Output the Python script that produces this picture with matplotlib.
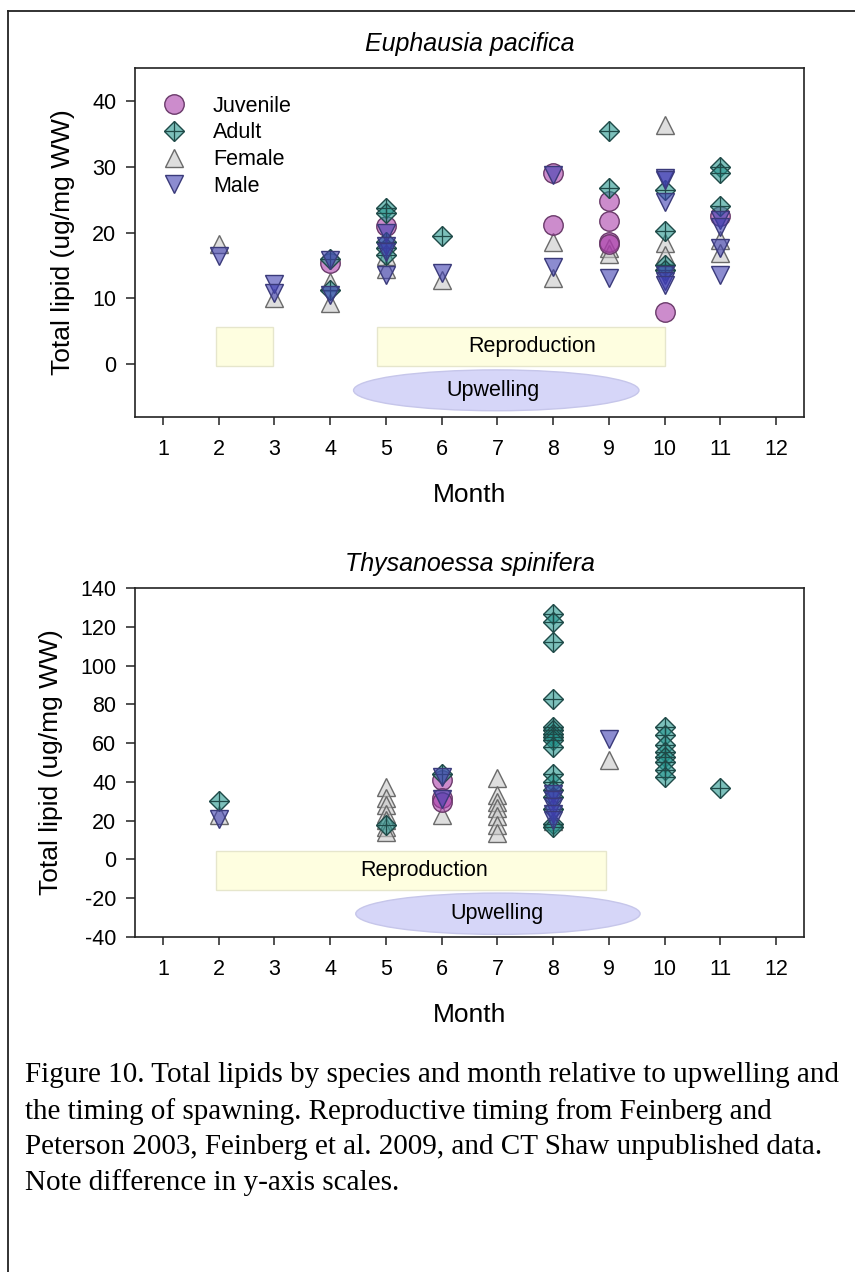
import matplotlib
matplotlib.use("Agg")
import matplotlib.pyplot as plt
from matplotlib.lines import Line2D
from matplotlib.patches import Rectangle, Ellipse

plt.rcParams['font.family'] = ['Liberation Sans', 'DejaVu Sans']

# ---------------- Data: Euphausia pacifica ----------------
ep_juv_month = [4, 5, 8, 8, 9, 9, 9, 9, 10, 11]
ep_juv_val = [15.4, 21.0, 29.0, 21.2, 24.8, 21.8, 18.6, 18.2, 8.0, 22.5]

ep_adult_month = [4, 4, 5, 5, 5, 5, 5, 6, 9, 9, 10, 10, 10, 10, 11, 11, 11]
ep_adult_val = [16.0, 11.3, 23.8, 23.0, 18.6, 17.6, 16.6, 19.5, 35.4, 26.8,
                26.4, 20.2, 15.1, 14.3, 30.0, 29.0, 24.0]

ep_female_month = [2, 3, 4, 4, 5, 5, 6, 8, 8, 9, 9, 10, 10, 10, 11, 11]
ep_female_val = [18.2, 10.1, 12.5, 9.3, 16.5, 14.5, 12.8, 18.6, 13.1, 17.6,
                 16.8, 36.4, 18.4, 16.6, 18.9, 16.9]

ep_male_month = [2, 3, 3, 4, 4, 5, 5, 5, 5, 6, 8, 8, 9, 10, 10, 10, 10, 10,
                 10, 11, 11, 11, 11]
ep_male_val = [16.5, 12.2, 10.9, 10.5, 15.8, 20.0, 18.0, 17.0, 13.6, 13.8,
               28.8, 14.8, 13.1, 28.3, 28.0, 24.7, 13.5, 12.6, 12.0, 21.9,
               20.9, 17.6, 13.6]

# ---------------- Data: Thysanoessa spinifera ----------------
ts_juv_month = [6, 6, 6]
ts_juv_val = [40.8, 31.5, 29.5]

ts_adult_month = [2, 5, 6, 8, 8, 8, 8, 8, 8, 8, 8, 8, 8, 8, 8, 8, 8, 8, 8,
                  8, 10, 10, 10, 10, 10, 10, 10, 10, 11]
ts_adult_val = [30.0, 17.6, 44.0, 126.8, 122.4, 112.1, 82.9, 68.3, 66.6,
                64.9, 63.0, 61.4, 58.0, 44.2, 39.9, 35.6, 32.2, 26.2, 18.5,
                16.7, 68.3, 64.0, 58.8, 55.4, 52.8, 50.2, 45.9, 42.5, 36.8]

ts_female_month = [2, 5, 5, 5, 5, 5, 5, 5, 6, 7, 7, 7, 7, 7, 7, 7, 8, 9]
ts_female_val = [22.7, 37.3, 31.5, 27.9, 23.6, 20.5, 16.7, 14.1, 22.7,
                 42.0, 33.0, 29.5, 26.5, 22.5, 18.0, 13.6, 20.0, 51.5]

ts_male_month = [2, 6, 6, 8, 8, 8, 8, 8, 9]
ts_male_val = [21.0, 42.5, 31.0, 33.9, 30.5, 27.0, 23.6, 20.2, 62.3]

months = list(range(1, 13))
category_labels = ['Juvenile', 'Adult', 'Female', 'Male']

# ---------------- Styles ----------------
ALPHA = 0.6
JUV_FC, JUV_EC = '#aa3faa', '#6a3a6a'
AD_FC, AD_EC = '#25968f', '#1f4a48'
FE_FC, FE_EC = '#c8c8c8', '#6a6a6a'
MA_FC, MA_EC = '#3f3fb1', '#3a3a7a'
REPRO_FC, REPRO_EC = '#fefee0', '#e6e6cc'
UPW_FC, UPW_EC = '#d6d6f8', '#c6c6ea'

W, H = 855, 1272
fig = plt.figure(figsize=(W / 100, H / 100), dpi=100)

# outer frame (left and top edges visible)
fig.add_artist(Line2D([8 / W, 8 / W], [0, 1 - 11 / H], transform=fig.transFigure,
                      color='#222222', lw=1.3))
fig.add_artist(Line2D([8 / W, 1], [1 - 11 / H, 1 - 11 / H], transform=fig.transFigure,
                      color='#222222', lw=1.3))


def px_axes(left, top, right, bottom):
    return fig.add_axes([left / W, 1 - bottom / H, (right - left) / W, (bottom - top) / H])


ax1 = px_axes(135, 68, 804, 417)
ax2 = px_axes(135, 588, 804, 937)


def rgba(c):
    return matplotlib.colors.to_rgba(c, ALPHA)


def draw_points(ax, jm, jv, am, av, fm, fv, mm, mv):
    ax.plot(fm, fv, linestyle='none', marker='^', markersize=13.5,
            mfc=rgba(FE_FC), mec=FE_EC, mew=1.0, zorder=3)
    ax.plot(jm, jv, linestyle='none', marker='o', markersize=14,
            mfc=rgba(JUV_FC), mec=JUV_EC, mew=1.0, zorder=3)
    ax.plot(am, av, linestyle='none', marker='D', markersize=10.5,
            mfc=rgba(AD_FC), mec=AD_EC, mew=1.0, zorder=3)
    ax.plot(am, av, linestyle='none', marker='+', markersize=14.5,
            mec=AD_EC, mew=0.9, zorder=3)
    ax.plot(mm, mv, linestyle='none', marker='v', markersize=13.5,
            mfc=rgba(MA_FC), mec=MA_EC, mew=1.0, zorder=3)


def style_axes(ax, ylim, yticks, title):
    ax.set_xlim(0.5, 12.5)
    ax.set_ylim(*ylim)
    ax.set_xticks(months)
    ax.set_xticklabels([str(m) for m in months])
    ax.set_yticks(yticks)
    ax.set_yticklabels([str(t) for t in yticks])
    for s in ax.spines.values():
        s.set_linewidth(1.2)
        s.set_color('#222222')
    ax.tick_params(axis='x', direction='out', length=6, width=1.1, pad=10,
                   labelsize=15.5, colors='#222222', labelcolor='black')
    ax.tick_params(axis='y', direction='out', length=6.5, width=1.1, pad=7,
                   labelsize=15.5, colors='#222222', labelcolor='black')
    ax.set_xlabel('Month', fontsize=19, labelpad=16.5)
    ax.set_ylabel('Total lipid (ug/mg WW)', fontsize=19, labelpad=12)
    ax.set_title(title, fontsize=18, style='italic', pad=12)


# ---- top panel ----
ax1.add_patch(Rectangle((1.95, -0.3), 1.03, 6.0, fc=REPRO_FC, ec=REPRO_EC, lw=1, zorder=1))
ax1.add_patch(Rectangle((4.84, -0.3), 5.16, 6.0, fc=REPRO_FC, ec=REPRO_EC, lw=1, zorder=1))
ax1.text(7.63, 2.7, 'Reproduction', ha='center', va='center', fontsize=15.5, zorder=2)
ax1.add_patch(Ellipse((6.98, -3.95), 5.12, 6.2, fc=UPW_FC, ec=UPW_EC, lw=1, zorder=1))
ax1.text(6.92, -3.9, 'Upwelling', ha='center', va='center', fontsize=15.5, zorder=2)
draw_points(ax1, ep_juv_month, ep_juv_val, ep_adult_month, ep_adult_val,
            ep_female_month, ep_female_val, ep_male_month, ep_male_val)
style_axes(ax1, (-8, 45), [0, 10, 20, 30, 40], 'Euphausia pacifica')

# legend
h_juv = Line2D([], [], linestyle='none', marker='o', markersize=14,
               mfc=rgba(JUV_FC), mec=JUV_EC, mew=1.0)
h_ad1 = Line2D([], [], linestyle='none', marker='D', markersize=10.5,
               mfc=rgba(AD_FC), mec=AD_EC, mew=1.0)
h_ad2 = Line2D([], [], linestyle='none', marker='+', markersize=14.5, mec=AD_EC, mew=0.9)
h_fe = Line2D([], [], linestyle='none', marker='^', markersize=13.5,
              mfc=rgba(FE_FC), mec=FE_EC, mew=1.0)
h_ma = Line2D([], [], linestyle='none', marker='v', markersize=13.5,
              mfc=rgba(MA_FC), mec=MA_EC, mew=1.0)
ax1.legend([h_juv, (h_ad1, h_ad2), h_fe, h_ma], category_labels,
           loc='upper left', bbox_to_anchor=(0.02, 0.958), frameon=False,
           fontsize=15.5, handlelength=1.2, handletextpad=1.2, labelspacing=0.27,
           borderaxespad=0.2)

# ---- bottom panel ----
ax2.add_patch(Rectangle((1.95, -16.0), 6.99, 20.3, fc=REPRO_FC, ec=REPRO_EC, lw=1, zorder=1))
ax2.text(5.68, -5.6, 'Reproduction', ha='center', va='center', fontsize=15.5, zorder=2)
ax2.add_patch(Ellipse((7.01, -28.0), 5.1, 21.3, fc=UPW_FC, ec=UPW_EC, lw=1, zorder=1))
ax2.text(6.99, -27.8, 'Upwelling', ha='center', va='center', fontsize=15.5, zorder=2)
draw_points(ax2, ts_juv_month, ts_juv_val, ts_adult_month, ts_adult_val,
            ts_female_month, ts_female_val, ts_male_month, ts_male_val)
style_axes(ax2, (-40, 140), [-40, -20, 0, 20, 40, 60, 80, 100, 120, 140],
           'Thysanoessa spinifera')

caption = ("Figure 10. Total lipids by species and month relative to upwelling and\n"
           "the timing of spawning. Reproductive timing from Feinberg and\n"
           "Peterson 2003, Feinberg et al. 2009, and CT Shaw unpublished data.\n"
           "Note difference in y-axis scales.")
fig.text(25 / W, 1 - 1062 / H, caption, ha='left', va='top', fontsize=21,
         family=['Liberation Serif', 'DejaVu Serif'], linespacing=1.46)

fig.savefig('out.png', dpi=100)
